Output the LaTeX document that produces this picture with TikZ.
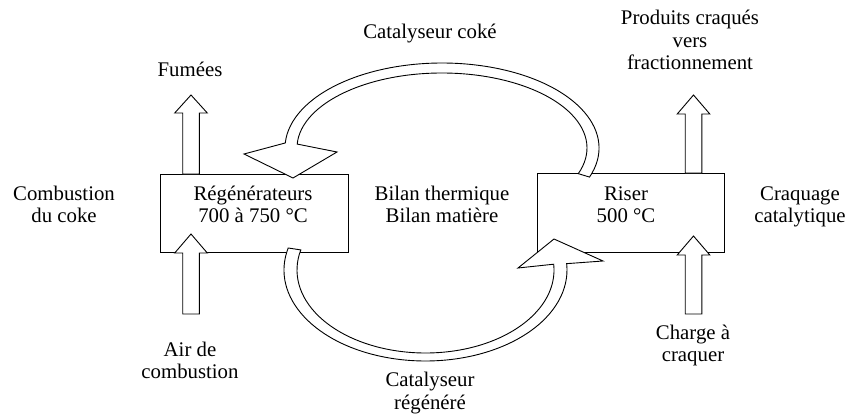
\documentclass[tikz,border=0pt]{standalone}
\usepackage{fontspec}
\setmainfont{Liberation Serif}
\begin{document}
\begin{tikzpicture}[x=1pt,y=-1pt,
  lbl/.style={font=\fontsize{20.8}{22.5}\selectfont,align=center,anchor=base,inner sep=0pt},
  unitbox/.style={draw=black,line width=1pt},
  band/.style={draw=black,fill=white,line width=0.9pt,line join=miter},
  blockarrow/.style={draw=black,fill=white,line width=0.9pt}]
\useasboundingbox (0,0) rectangle (850,414);

% process boxes
\draw[unitbox] (160,174) rectangle (348,252);
\draw[unitbox] (537,173) rectangle (724,252);
\coordinate (regen) at (254,213);
\coordinate (riser) at (630,213);

% straight block arrows: feed in from below, products out on top
\newcommand\blockup[4]{%
  \draw[blockarrow] ({#1-8.3},#2) -- ({#1-8.3},#3) -- ({#1-16.3},#3) -- (#1,#4)
    -- ({#1+16.3},#3) -- ({#1+8.3},#3) -- ({#1+8.3},#2) -- cycle;}
\blockup{191}{174}{113}{95}
\blockup{191}{314}{253}{234}
\blockup{693.5}{173}{114}{95}
\blockup{693.5}{314}{255}{236}

% coked catalyst: riser -> regenerator, over the top
\draw[band] (442,148) ++(20:157 and 85) coordinate (cokeA)
  arc[start angle=20,end angle=-176.6,x radius=157,y radius=85]
  -- (244,154) -- (293,178) -- (337,152)
  -- ({442+145*cos(183)},{148+75*sin(183)})
  arc[start angle=183,end angle=380,x radius=145,y radius=75] -- cycle;

% regenerated catalyst: regenerator -> riser, underneath
\draw[band] (425.5,270) ++(194:141.5 and 91) coordinate (regA)
  arc[start angle=194,end angle=-4,x radius=141.5,y radius=91]
  -- (603,261) -- (554,239) -- (518,268)
  -- ({425.5+128.5*cos(-4)},{270+83*sin(-4)})
  arc[start angle=-4,end angle=194,x radius=128.5,y radius=83] -- cycle;

% labels (anchor=base sits on the last line)
\node[lbl] (coke) at (430,39) {Catalyseur coké};
\node[lbl] (fumees) at (190,77) {Fumées};
\node[lbl] (produits) at (690,70) {Produits craqués\\vers\\fractionnement};
\node[lbl] (combustion) at (64,222.5) {Combustion\\du coke};
\node[lbl] (regtxt) at (253,222.5) {Régénérateurs\\700 à 750 °C};
\node[lbl] (bilan) at (442,222.5) {Bilan thermique\\Bilan matière};
\node[lbl] (risertxt) at (626,222.5) {Riser\\500 °C};
\node[lbl] (craquage) at (800,222.5) {Craquage\\catalytique};
\node[lbl] (air) at (190,378.5) {Air de\\combustion};
\node[lbl] (charge) at (693,361.5) {Charge à\\craquer};
\node[lbl] (regenere) at (430,409) {Catalyseur\\régénéré};
\end{tikzpicture}
\end{document}
